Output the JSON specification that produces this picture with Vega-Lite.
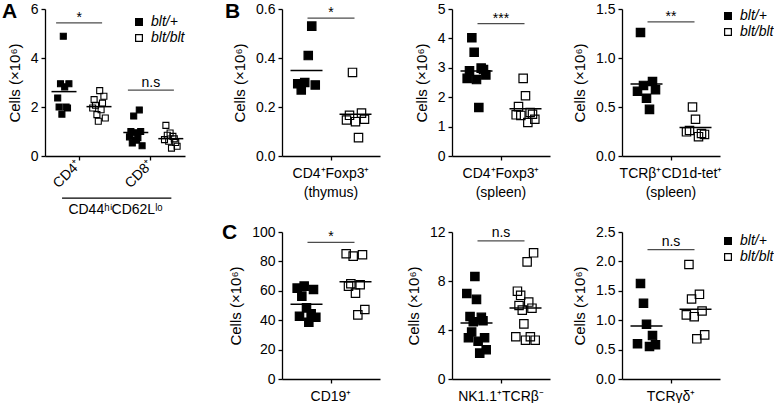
{
  "$schema": "https://vega.github.io/schema/vega-lite/v6.json",
  "padding": {"left": 2, "top": 1, "right": 0, "bottom": 0},
  "config": {
    "font": "Liberation Sans",
    "view": {"stroke": null},
    "axis": {"domainColor": "black", "domainWidth": 1.3, "tickColor": "black", "tickWidth": 1.3, "tickSize": 4, "labelColor": "black", "labelFontSize": 14, "labelFont": "Liberation Sans", "titleFont": "Liberation Sans", "titleFontSize": 15, "titleFontWeight": "normal", "titleColor": "black", "grid": false, "labelOverlap": false},
    "axisY": {"labelPadding": 3, "titlePadding": 8, "labelOverlap": false, "labelSeparation": -20, "labelLineHeight": 14},
    "axisX": {"labelAngle": 0, "labelPadding": 6},
    "title": {"font": "Liberation Sans", "fontSize": 21, "fontWeight": "bold", "color": "black", "anchor": "start", "frame": "group", "baseline": "alphabetic", "offset": 0},
    "legend": {"orient": "none", "title": null, "symbolType": "square", "symbolSize": 46, "symbolStrokeColor": "black", "symbolStrokeWidth": 1.2, "labelFont": "Liberation Sans", "labelFontStyle": "italic", "labelFontSize": 14, "labelColor": "black", "labelOffset": 5, "rowPadding": 2}
  },
  "datasets": {
    "cells": [
      {"cell": "CD4⁺", "genotype": "blt/+", "mouse": 1, "value": 2.37},
      {"cell": "CD4⁺", "genotype": "blt/+", "mouse": 2, "value": 2.0},
      {"cell": "CD4⁺", "genotype": "blt/+", "mouse": 3, "value": 2.95},
      {"cell": "CD4⁺", "genotype": "blt/+", "mouse": 4, "value": 1.71},
      {"cell": "CD4⁺", "genotype": "blt/+", "mouse": 5, "value": 4.89},
      {"cell": "CD4⁺", "genotype": "blt/+", "mouse": 6, "value": 2.82},
      {"cell": "CD4⁺", "genotype": "blt/+", "mouse": 7, "value": 2.0},
      {"cell": "CD4⁺", "genotype": "blt/+", "mouse": 8, "value": 1.96},
      {"cell": "CD4⁺", "genotype": "blt/+", "mouse": 9, "value": 2.95},
      {"cell": "CD4⁺", "genotype": "blt/blt", "mouse": 1, "value": 1.96},
      {"cell": "CD4⁺", "genotype": "blt/blt", "mouse": 2, "value": 2.3},
      {"cell": "CD4⁺", "genotype": "blt/blt", "mouse": 3, "value": 2.07},
      {"cell": "CD4⁺", "genotype": "blt/blt", "mouse": 4, "value": 1.69},
      {"cell": "CD4⁺", "genotype": "blt/blt", "mouse": 5, "value": 1.42},
      {"cell": "CD4⁺", "genotype": "blt/blt", "mouse": 6, "value": 2.67},
      {"cell": "CD4⁺", "genotype": "blt/blt", "mouse": 7, "value": 1.89},
      {"cell": "CD4⁺", "genotype": "blt/blt", "mouse": 8, "value": 2.16},
      {"cell": "CD4⁺", "genotype": "blt/blt", "mouse": 9, "value": 2.44},
      {"cell": "CD4⁺", "genotype": "blt/blt", "mouse": 10, "value": 1.55},
      {"cell": "CD8⁺", "genotype": "blt/+", "mouse": 1, "value": 0.78},
      {"cell": "CD8⁺", "genotype": "blt/+", "mouse": 2, "value": 1.0},
      {"cell": "CD8⁺", "genotype": "blt/+", "mouse": 3, "value": 0.53},
      {"cell": "CD8⁺", "genotype": "blt/+", "mouse": 4, "value": 1.63},
      {"cell": "CD8⁺", "genotype": "blt/+", "mouse": 5, "value": 0.95},
      {"cell": "CD8⁺", "genotype": "blt/+", "mouse": 6, "value": 0.65},
      {"cell": "CD8⁺", "genotype": "blt/+", "mouse": 7, "value": 0.75},
      {"cell": "CD8⁺", "genotype": "blt/+", "mouse": 8, "value": 1.88},
      {"cell": "CD8⁺", "genotype": "blt/+", "mouse": 9, "value": 1.0},
      {"cell": "CD8⁺", "genotype": "blt/+", "mouse": 10, "value": 0.42},
      {"cell": "CD8⁺", "genotype": "blt/blt", "mouse": 1, "value": 0.67},
      {"cell": "CD8⁺", "genotype": "blt/blt", "mouse": 2, "value": 1.25},
      {"cell": "CD8⁺", "genotype": "blt/blt", "mouse": 3, "value": 0.85},
      {"cell": "CD8⁺", "genotype": "blt/blt", "mouse": 4, "value": 0.6},
      {"cell": "CD8⁺", "genotype": "blt/blt", "mouse": 5, "value": 0.94},
      {"cell": "CD8⁺", "genotype": "blt/blt", "mouse": 6, "value": 0.32},
      {"cell": "CD8⁺", "genotype": "blt/blt", "mouse": 7, "value": 0.8},
      {"cell": "CD8⁺", "genotype": "blt/blt", "mouse": 8, "value": 0.7},
      {"cell": "CD8⁺", "genotype": "blt/blt", "mouse": 9, "value": 0.55},
      {"cell": "CD8⁺", "genotype": "blt/blt", "mouse": 10, "value": 0.4},

      {"cell": "CD4⁺Foxp3⁺ (thymus)", "genotype": "blt/+", "mouse": 1, "value": 0.295},
      {"cell": "CD4⁺Foxp3⁺ (thymus)", "genotype": "blt/+", "mouse": 2, "value": 0.27},
      {"cell": "CD4⁺Foxp3⁺ (thymus)", "genotype": "blt/+", "mouse": 3, "value": 0.30},
      {"cell": "CD4⁺Foxp3⁺ (thymus)", "genotype": "blt/+", "mouse": 4, "value": 0.41},
      {"cell": "CD4⁺Foxp3⁺ (thymus)", "genotype": "blt/+", "mouse": 5, "value": 0.53},
      {"cell": "CD4⁺Foxp3⁺ (thymus)", "genotype": "blt/+", "mouse": 6, "value": 0.29},
      {"cell": "CD4⁺Foxp3⁺ (thymus)", "genotype": "blt/blt", "mouse": 1, "value": 0.147},
      {"cell": "CD4⁺Foxp3⁺ (thymus)", "genotype": "blt/blt", "mouse": 2, "value": 0.166},
      {"cell": "CD4⁺Foxp3⁺ (thymus)", "genotype": "blt/blt", "mouse": 3, "value": 0.341},
      {"cell": "CD4⁺Foxp3⁺ (thymus)", "genotype": "blt/blt", "mouse": 4, "value": 0.14},
      {"cell": "CD4⁺Foxp3⁺ (thymus)", "genotype": "blt/blt", "mouse": 5, "value": 0.075},
      {"cell": "CD4⁺Foxp3⁺ (thymus)", "genotype": "blt/blt", "mouse": 6, "value": 0.175},
      {"cell": "CD4⁺Foxp3⁺ (thymus)", "genotype": "blt/blt", "mouse": 7, "value": 0.15},

      {"cell": "CD4⁺Foxp3⁺ (spleen)", "genotype": "blt/+", "mouse": 1, "value": 2.64},
      {"cell": "CD4⁺Foxp3⁺ (spleen)", "genotype": "blt/+", "mouse": 2, "value": 2.9},
      {"cell": "CD4⁺Foxp3⁺ (spleen)", "genotype": "blt/+", "mouse": 3, "value": 4.02},
      {"cell": "CD4⁺Foxp3⁺ (spleen)", "genotype": "blt/+", "mouse": 4, "value": 3.53},
      {"cell": "CD4⁺Foxp3⁺ (spleen)", "genotype": "blt/+", "mouse": 5, "value": 2.6},
      {"cell": "CD4⁺Foxp3⁺ (spleen)", "genotype": "blt/+", "mouse": 6, "value": 1.65},
      {"cell": "CD4⁺Foxp3⁺ (spleen)", "genotype": "blt/+", "mouse": 7, "value": 2.99},
      {"cell": "CD4⁺Foxp3⁺ (spleen)", "genotype": "blt/+", "mouse": 8, "value": 2.94},
      {"cell": "CD4⁺Foxp3⁺ (spleen)", "genotype": "blt/+", "mouse": 9, "value": 2.76},
      {"cell": "CD4⁺Foxp3⁺ (spleen)", "genotype": "blt/blt", "mouse": 1, "value": 1.40},
      {"cell": "CD4⁺Foxp3⁺ (spleen)", "genotype": "blt/blt", "mouse": 2, "value": 1.68},
      {"cell": "CD4⁺Foxp3⁺ (spleen)", "genotype": "blt/blt", "mouse": 3, "value": 1.38},
      {"cell": "CD4⁺Foxp3⁺ (spleen)", "genotype": "blt/blt", "mouse": 4, "value": 2.64},
      {"cell": "CD4⁺Foxp3⁺ (spleen)", "genotype": "blt/blt", "mouse": 5, "value": 2.05},
      {"cell": "CD4⁺Foxp3⁺ (spleen)", "genotype": "blt/blt", "mouse": 6, "value": 1.14},
      {"cell": "CD4⁺Foxp3⁺ (spleen)", "genotype": "blt/blt", "mouse": 7, "value": 1.48},
      {"cell": "CD4⁺Foxp3⁺ (spleen)", "genotype": "blt/blt", "mouse": 8, "value": 1.42},
      {"cell": "CD4⁺Foxp3⁺ (spleen)", "genotype": "blt/blt", "mouse": 9, "value": 1.25},

      {"cell": "TCRβ⁺CD1d-tet⁺ (spleen)", "genotype": "blt/+", "mouse": 1, "value": 0.66},
      {"cell": "TCRβ⁺CD1d-tet⁺ (spleen)", "genotype": "blt/+", "mouse": 2, "value": 1.26},
      {"cell": "TCRβ⁺CD1d-tet⁺ (spleen)", "genotype": "blt/+", "mouse": 3, "value": 0.72},
      {"cell": "TCRβ⁺CD1d-tet⁺ (spleen)", "genotype": "blt/+", "mouse": 4, "value": 0.59},
      {"cell": "TCRβ⁺CD1d-tet⁺ (spleen)", "genotype": "blt/+", "mouse": 5, "value": 0.476},
      {"cell": "TCRβ⁺CD1d-tet⁺ (spleen)", "genotype": "blt/+", "mouse": 6, "value": 0.76},
      {"cell": "TCRβ⁺CD1d-tet⁺ (spleen)", "genotype": "blt/+", "mouse": 7, "value": 0.676},
      {"cell": "TCRβ⁺CD1d-tet⁺ (spleen)", "genotype": "blt/blt", "mouse": 1, "value": 0.247},
      {"cell": "TCRβ⁺CD1d-tet⁺ (spleen)", "genotype": "blt/blt", "mouse": 2, "value": 0.26},
      {"cell": "TCRβ⁺CD1d-tet⁺ (spleen)", "genotype": "blt/blt", "mouse": 3, "value": 0.50},
      {"cell": "TCRβ⁺CD1d-tet⁺ (spleen)", "genotype": "blt/blt", "mouse": 4, "value": 0.375},
      {"cell": "TCRβ⁺CD1d-tet⁺ (spleen)", "genotype": "blt/blt", "mouse": 5, "value": 0.197},
      {"cell": "TCRβ⁺CD1d-tet⁺ (spleen)", "genotype": "blt/blt", "mouse": 6, "value": 0.23},
      {"cell": "TCRβ⁺CD1d-tet⁺ (spleen)", "genotype": "blt/blt", "mouse": 7, "value": 0.22},

      {"cell": "CD19⁺", "genotype": "blt/+", "mouse": 1, "value": 61.8},
      {"cell": "CD19⁺", "genotype": "blt/+", "mouse": 2, "value": 42.7},
      {"cell": "CD19⁺", "genotype": "blt/+", "mouse": 3, "value": 56.4},
      {"cell": "CD19⁺", "genotype": "blt/+", "mouse": 4, "value": 63.2},
      {"cell": "CD19⁺", "genotype": "blt/+", "mouse": 5, "value": 48.4},
      {"cell": "CD19⁺", "genotype": "blt/+", "mouse": 6, "value": 38.6},
      {"cell": "CD19⁺", "genotype": "blt/+", "mouse": 7, "value": 44.3},
      {"cell": "CD19⁺", "genotype": "blt/+", "mouse": 8, "value": 60.9},
      {"cell": "CD19⁺", "genotype": "blt/+", "mouse": 9, "value": 42.0},
      {"cell": "CD19⁺", "genotype": "blt/blt", "mouse": 1, "value": 85.2},
      {"cell": "CD19⁺", "genotype": "blt/blt", "mouse": 2, "value": 63.2},
      {"cell": "CD19⁺", "genotype": "blt/blt", "mouse": 3, "value": 64.8},
      {"cell": "CD19⁺", "genotype": "blt/blt", "mouse": 4, "value": 83.6},
      {"cell": "CD19⁺", "genotype": "blt/blt", "mouse": 5, "value": 58.4},
      {"cell": "CD19⁺", "genotype": "blt/blt", "mouse": 6, "value": 43.6},
      {"cell": "CD19⁺", "genotype": "blt/blt", "mouse": 7, "value": 64.1},
      {"cell": "CD19⁺", "genotype": "blt/blt", "mouse": 8, "value": 84.5},
      {"cell": "CD19⁺", "genotype": "blt/blt", "mouse": 9, "value": 47.3},

      {"cell": "NK1.1⁺TCRβ⁻", "genotype": "blt/+", "mouse": 1, "value": 6.98},
      {"cell": "NK1.1⁺TCRβ⁻", "genotype": "blt/+", "mouse": 2, "value": 3.37},
      {"cell": "NK1.1⁺TCRβ⁻", "genotype": "blt/+", "mouse": 3, "value": 5.1},
      {"cell": "NK1.1⁺TCRβ⁻", "genotype": "blt/+", "mouse": 4, "value": 3.83},
      {"cell": "NK1.1⁺TCRβ⁻", "genotype": "blt/+", "mouse": 5, "value": 4.67},
      {"cell": "NK1.1⁺TCRβ⁻", "genotype": "blt/+", "mouse": 6, "value": 8.37},
      {"cell": "NK1.1⁺TCRβ⁻", "genotype": "blt/+", "mouse": 7, "value": 6.5},
      {"cell": "NK1.1⁺TCRβ⁻", "genotype": "blt/+", "mouse": 8, "value": 3.08},
      {"cell": "NK1.1⁺TCRβ⁻", "genotype": "blt/+", "mouse": 9, "value": 2.11},
      {"cell": "NK1.1⁺TCRβ⁻", "genotype": "blt/+", "mouse": 10, "value": 5.03},
      {"cell": "NK1.1⁺TCRβ⁻", "genotype": "blt/+", "mouse": 11, "value": 4.75},
      {"cell": "NK1.1⁺TCRβ⁻", "genotype": "blt/+", "mouse": 12, "value": 3.37},
      {"cell": "NK1.1⁺TCRβ⁻", "genotype": "blt/+", "mouse": 13, "value": 2.39},
      {"cell": "NK1.1⁺TCRβ⁻", "genotype": "blt/blt", "mouse": 1, "value": 3.45},
      {"cell": "NK1.1⁺TCRβ⁻", "genotype": "blt/blt", "mouse": 2, "value": 7.17},
      {"cell": "NK1.1⁺TCRβ⁻", "genotype": "blt/blt", "mouse": 3, "value": 6.0},
      {"cell": "NK1.1⁺TCRβ⁻", "genotype": "blt/blt", "mouse": 4, "value": 6.83},
      {"cell": "NK1.1⁺TCRβ⁻", "genotype": "blt/blt", "mouse": 5, "value": 5.62},
      {"cell": "NK1.1⁺TCRβ⁻", "genotype": "blt/blt", "mouse": 6, "value": 4.5},
      {"cell": "NK1.1⁺TCRβ⁻", "genotype": "blt/blt", "mouse": 7, "value": 3.17},
      {"cell": "NK1.1⁺TCRβ⁻", "genotype": "blt/blt", "mouse": 8, "value": 9.56},
      {"cell": "NK1.1⁺TCRβ⁻", "genotype": "blt/blt", "mouse": 9, "value": 6.28},
      {"cell": "NK1.1⁺TCRβ⁻", "genotype": "blt/blt", "mouse": 10, "value": 3.45},
      {"cell": "NK1.1⁺TCRβ⁻", "genotype": "blt/blt", "mouse": 11, "value": 5.78},
      {"cell": "NK1.1⁺TCRβ⁻", "genotype": "blt/blt", "mouse": 12, "value": 10.3},
      {"cell": "NK1.1⁺TCRβ⁻", "genotype": "blt/blt", "mouse": 13, "value": 3.17},

      {"cell": "TCRγδ⁺", "genotype": "blt/+", "mouse": 1, "value": 0.598},
      {"cell": "TCRγδ⁺", "genotype": "blt/+", "mouse": 2, "value": 1.625},
      {"cell": "TCRγδ⁺", "genotype": "blt/+", "mouse": 3, "value": 1.287},
      {"cell": "TCRγδ⁺", "genotype": "blt/+", "mouse": 4, "value": 0.931},
      {"cell": "TCRγδ⁺", "genotype": "blt/+", "mouse": 5, "value": 0.553},
      {"cell": "TCRγδ⁺", "genotype": "blt/+", "mouse": 6, "value": 0.739},
      {"cell": "TCRγδ⁺", "genotype": "blt/+", "mouse": 7, "value": 0.581},
      {"cell": "TCRγδ⁺", "genotype": "blt/blt", "mouse": 1, "value": 1.09},
      {"cell": "TCRγδ⁺", "genotype": "blt/blt", "mouse": 2, "value": 1.947},
      {"cell": "TCRγδ⁺", "genotype": "blt/blt", "mouse": 3, "value": 1.36},
      {"cell": "TCRγδ⁺", "genotype": "blt/blt", "mouse": 4, "value": 1.06},
      {"cell": "TCRγδ⁺", "genotype": "blt/blt", "mouse": 5, "value": 0.683},
      {"cell": "TCRγδ⁺", "genotype": "blt/blt", "mouse": 6, "value": 1.44},
      {"cell": "TCRγδ⁺", "genotype": "blt/blt", "mouse": 7, "value": 1.157},
      {"cell": "TCRγδ⁺", "genotype": "blt/blt", "mouse": 8, "value": 0.75}
    ]
  },
  "bounds": "flush",
  "columns": 4,
  "spacing": {"row": 76, "column": 72},
  "resolve": {"scale": {"fill": "independent", "xOffset": "independent"}, "legend": {"fill": "independent"}},
  "concat": [
    {
      "width": 140, "height": 147,
      "title": {"text": "A", "dx": -43, "dy": 24},
      "data": {"name": "cells"},
      "encoding": {"x": {"field": "cell", "type": "nominal", "scale": {"domain": ["CD4⁺", "CD8⁺"], "paddingInner": 0.05, "paddingOuter": 0}, "axis": {"labelAngle": -45, "labelAlign": "right", "labelBaseline": "middle", "labelPadding": 2, "title": "CD44ʰⁱCD62Lˡᵒ", "titleFontSize": 14, "titlePadding": 12}}},
      "layer": [
        {"transform": [{"filter": {"field": "cell", "oneOf": ["CD4⁺", "CD8⁺"]}}, {"filter": {"field": "genotype", "equal": "blt/+"}}],
         "mark": {"type": "square", "size": 36, "stroke": "black", "strokeWidth": 1.1, "opacity": 1},
         "encoding": {
           "xOffset": {"field": "mouse", "type": "ordinal", "scale": {"range": [12, 26]}},
           "y": {"field": "value", "type": "quantitative", "title": "Cells (×10⁶)", "scale": {"domain": [0, 6], "nice": false}, "axis": {"values": [0, 2, 4, 6], "format": "d", "labelOverlap": false}},
           "fill": {"field": "genotype", "type": "nominal", "scale": {"domain": ["blt/+", "blt/blt"], "range": ["black", "transparent"]}, "legend": {"legendX": 87, "legendY": 6}}}},
        {"transform": [{"filter": {"field": "cell", "oneOf": ["CD4⁺", "CD8⁺"]}}, {"filter": {"field": "genotype", "equal": "blt/blt"}}],
         "mark": {"type": "square", "size": 36, "stroke": "black", "strokeWidth": 1.1, "opacity": 1},
         "encoding": {
           "xOffset": {"field": "mouse", "type": "ordinal", "scale": {"range": [47, 61]}},
           "y": {"field": "value", "type": "quantitative", "title": "Cells (×10⁶)", "scale": {"domain": [0, 6], "nice": false}, "axis": {"values": [0, 2, 4, 6], "format": "d", "labelOverlap": false}},
           "fill": {"field": "genotype", "type": "nominal", "scale": {"domain": ["blt/+", "blt/blt"], "range": ["black", "transparent"]}, "legend": {"legendX": 87, "legendY": 6}}}},
        {"transform": [{"filter": {"field": "cell", "oneOf": ["CD4⁺", "CD8⁺"]}}],
         "mark": {"type": "tick", "orient": "horizontal", "size": 25, "thickness": 1.5, "color": "black"},
         "encoding": {
           "xOffset": {"field": "genotype", "type": "nominal", "scale": {"domain": ["blt/+", "blt/blt"], "range": [1.5, 71.5]}},
           "y": {"aggregate": "mean", "field": "value", "type": "quantitative", "title": "Cells (×10⁶)", "scale": {"domain": [0, 6], "nice": false}, "axis": {"values": [0, 2, 4, 6], "format": "d", "labelOverlap": false}}}},
        {"data": {"values": [{}]},
         "mark": {"type": "tick", "orient": "horizontal", "size": 46, "thickness": 1.3, "color": "black"},
         "encoding": {"x": {"datum": "CD4⁺"}, "y": {"datum": 5.43, "title": "Cells (×10⁶)", "scale": {"domain": [0, 6], "nice": false}, "axis": {"values": [0, 2, 4, 6], "format": "d", "labelOverlap": false}}}},
        {"data": {"values": [{}]},
         "mark": {"type": "text", "fontSize": 14, "baseline": "alphabetic", "dy": -1, "color": "black"},
         "encoding": {"x": {"datum": "CD4⁺"}, "y": {"datum": 5.43, "title": "Cells (×10⁶)", "scale": {"domain": [0, 6], "nice": false}, "axis": {"values": [0, 2, 4, 6], "format": "d", "labelOverlap": false}}, "text": {"value": "*"}}},
        {"data": {"values": [{}]},
         "mark": {"type": "tick", "orient": "horizontal", "size": 46, "thickness": 1.3, "color": "black"},
         "encoding": {"x": {"datum": "CD8⁺"}, "y": {"datum": 2.69, "title": "Cells (×10⁶)", "scale": {"domain": [0, 6], "nice": false}, "axis": {"values": [0, 2, 4, 6], "format": "d", "labelOverlap": false}}}},
        {"data": {"values": [{}]},
         "mark": {"type": "text", "fontSize": 14, "baseline": "alphabetic", "dy": -3.5, "color": "black"},
         "encoding": {"x": {"datum": "CD8⁺"}, "y": {"datum": 2.69, "title": "Cells (×10⁶)", "scale": {"domain": [0, 6], "nice": false}, "axis": {"values": [0, 2, 4, 6], "format": "d", "labelOverlap": false}}, "text": {"value": "n.s"}}},
        {"data": {"values": [{}]},
         "mark": {"type": "rule", "strokeWidth": 1.3, "color": "black"},
         "encoding": {"x": {"datum": "CD4⁺", "bandPosition": 0.25}, "x2": {"datum": "CD8⁺", "bandPosition": 0.8}, "y": {"datum": -1.72, "title": "Cells (×10⁶)", "scale": {"domain": [0, 6], "nice": false}, "axis": {"values": [0, 2, 4, 6], "format": "d", "labelOverlap": false}}}}
      ],
      "resolve": {"scale": {"xOffset": "independent"}}
    },
    {
      "width": 98, "height": 147,
      "title": {"text": "B", "dx": -57, "dy": 24},
      "data": {"name": "cells"},
      "encoding": {"x": {"field": "cell", "type": "nominal", "scale": {"paddingInner": 0, "paddingOuter": 0}, "axis": {"title": null, "labelLineHeight": 19, "labelExpr": "indexof(datum.label, ' (') > 0 ? [slice(datum.label, 0, indexof(datum.label, ' (')), slice(datum.label, indexof(datum.label, ' (') + 1)] : datum.label"}}},
      "layer": [
        {"transform": [{"filter": {"field": "cell", "equal": "CD4⁺Foxp3⁺ (thymus)"}}, {"filter": {"field": "genotype", "equal": "blt/+"}}],
         "mark": {"type": "square", "size": 70, "stroke": "black", "strokeWidth": 1.2, "opacity": 1},
         "encoding": {
           "xOffset": {"field": "mouse", "type": "ordinal", "scale": {"range": [14, 35]}},
           "y": {"field": "value", "type": "quantitative", "title": "Cells (×10⁶)", "scale": {"domain": [0, 0.6], "nice": false}, "axis": {"values": [0, 0.2, 0.4, 0.6], "format": ".1f", "labelOverlap": false}},
           "fill": {"field": "genotype", "type": "nominal", "scale": {"domain": ["blt/+", "blt/blt"], "range": ["black", "transparent"]}, "legend": null}}},
        {"transform": [{"filter": {"field": "cell", "equal": "CD4⁺Foxp3⁺ (thymus)"}}, {"filter": {"field": "genotype", "equal": "blt/blt"}}],
         "mark": {"type": "square", "size": 70, "stroke": "black", "strokeWidth": 1.2, "opacity": 1},
         "encoding": {
           "xOffset": {"field": "mouse", "type": "ordinal", "scale": {"range": [63, 84]}},
           "y": {"field": "value", "type": "quantitative", "title": "Cells (×10⁶)", "scale": {"domain": [0, 0.6], "nice": false}, "axis": {"values": [0, 0.2, 0.4, 0.6], "format": ".1f", "labelOverlap": false}},
           "fill": {"field": "genotype", "type": "nominal", "scale": {"domain": ["blt/+", "blt/blt"], "range": ["black", "transparent"]}, "legend": null}}},
        {"transform": [{"filter": {"field": "cell", "equal": "CD4⁺Foxp3⁺ (thymus)"}}],
         "mark": {"type": "tick", "orient": "horizontal", "size": 32, "thickness": 1.5, "color": "black"},
         "encoding": {
           "xOffset": {"field": "genotype", "type": "nominal", "scale": {"domain": ["blt/+", "blt/blt"], "range": [0, 98]}},
           "y": {"aggregate": "mean", "field": "value", "type": "quantitative", "title": "Cells (×10⁶)", "scale": {"domain": [0, 0.6], "nice": false}, "axis": {"values": [0, 0.2, 0.4, 0.6], "format": ".1f", "labelOverlap": false}}}},
        {"data": {"values": [{}]},
         "mark": {"type": "tick", "orient": "horizontal", "size": 47, "thickness": 1.3, "color": "black"},
         "encoding": {"x": {"datum": "CD4⁺Foxp3⁺ (thymus)"}, "y": {"datum": 0.563, "title": "Cells (×10⁶)", "scale": {"domain": [0, 0.6], "nice": false}, "axis": {"values": [0, 0.2, 0.4, 0.6], "format": ".1f", "labelOverlap": false}}}},
        {"data": {"values": [{}]},
         "mark": {"type": "text", "fontSize": 14, "baseline": "alphabetic", "dy": -1, "color": "black"},
         "encoding": {"x": {"datum": "CD4⁺Foxp3⁺ (thymus)"}, "y": {"datum": 0.563, "title": "Cells (×10⁶)", "scale": {"domain": [0, 0.6], "nice": false}, "axis": {"values": [0, 0.2, 0.4, 0.6], "format": ".1f", "labelOverlap": false}}, "text": {"value": "*"}}}
      ],
      "resolve": {"scale": {"xOffset": "independent"}}
    },
    {
      "width": 98, "height": 147,
      "data": {"name": "cells"},
      "encoding": {"x": {"field": "cell", "type": "nominal", "scale": {"paddingInner": 0, "paddingOuter": 0}, "axis": {"title": null, "labelLineHeight": 19, "labelExpr": "indexof(datum.label, ' (') > 0 ? [slice(datum.label, 0, indexof(datum.label, ' (')), slice(datum.label, indexof(datum.label, ' (') + 1)] : datum.label"}}},
      "layer": [
        {"transform": [{"filter": {"field": "cell", "equal": "CD4⁺Foxp3⁺ (spleen)"}}, {"filter": {"field": "genotype", "equal": "blt/+"}}],
         "mark": {"type": "square", "size": 70, "stroke": "black", "strokeWidth": 1.2, "opacity": 1},
         "encoding": {
           "xOffset": {"field": "mouse", "type": "ordinal", "scale": {"range": [14, 35]}},
           "y": {"field": "value", "type": "quantitative", "title": "Cells (×10⁶)", "scale": {"domain": [0, 5], "nice": false}, "axis": {"values": [0, 1, 2, 3, 4, 5], "format": "d", "labelOverlap": false}},
           "fill": {"field": "genotype", "type": "nominal", "scale": {"domain": ["blt/+", "blt/blt"], "range": ["black", "transparent"]}, "legend": null}}},
        {"transform": [{"filter": {"field": "cell", "equal": "CD4⁺Foxp3⁺ (spleen)"}}, {"filter": {"field": "genotype", "equal": "blt/blt"}}],
         "mark": {"type": "square", "size": 70, "stroke": "black", "strokeWidth": 1.2, "opacity": 1},
         "encoding": {
           "xOffset": {"field": "mouse", "type": "ordinal", "scale": {"range": [63, 84]}},
           "y": {"field": "value", "type": "quantitative", "title": "Cells (×10⁶)", "scale": {"domain": [0, 5], "nice": false}, "axis": {"values": [0, 1, 2, 3, 4, 5], "format": "d", "labelOverlap": false}},
           "fill": {"field": "genotype", "type": "nominal", "scale": {"domain": ["blt/+", "blt/blt"], "range": ["black", "transparent"]}, "legend": null}}},
        {"transform": [{"filter": {"field": "cell", "equal": "CD4⁺Foxp3⁺ (spleen)"}}],
         "mark": {"type": "tick", "orient": "horizontal", "size": 32, "thickness": 1.5, "color": "black"},
         "encoding": {
           "xOffset": {"field": "genotype", "type": "nominal", "scale": {"domain": ["blt/+", "blt/blt"], "range": [0, 98]}},
           "y": {"aggregate": "mean", "field": "value", "type": "quantitative", "title": "Cells (×10⁶)", "scale": {"domain": [0, 5], "nice": false}, "axis": {"values": [0, 1, 2, 3, 4, 5], "format": "d", "labelOverlap": false}}}},
        {"data": {"values": [{}]},
         "mark": {"type": "tick", "orient": "horizontal", "size": 47, "thickness": 1.3, "color": "black"},
         "encoding": {"x": {"datum": "CD4⁺Foxp3⁺ (spleen)"}, "y": {"datum": 4.5, "title": "Cells (×10⁶)", "scale": {"domain": [0, 5], "nice": false}, "axis": {"values": [0, 1, 2, 3, 4, 5], "format": "d", "labelOverlap": false}}}},
        {"data": {"values": [{}]},
         "mark": {"type": "text", "fontSize": 14, "baseline": "alphabetic", "dy": -1, "color": "black"},
         "encoding": {"x": {"datum": "CD4⁺Foxp3⁺ (spleen)"}, "y": {"datum": 4.5, "title": "Cells (×10⁶)", "scale": {"domain": [0, 5], "nice": false}, "axis": {"values": [0, 1, 2, 3, 4, 5], "format": "d", "labelOverlap": false}}, "text": {"value": "***"}}}
      ],
      "resolve": {"scale": {"xOffset": "independent"}}
    },
    {
      "width": 98, "height": 147,
      "data": {"name": "cells"},
      "encoding": {"x": {"field": "cell", "type": "nominal", "scale": {"paddingInner": 0, "paddingOuter": 0}, "axis": {"title": null, "labelLineHeight": 19, "labelExpr": "indexof(datum.label, ' (') > 0 ? [slice(datum.label, 0, indexof(datum.label, ' (')), slice(datum.label, indexof(datum.label, ' (') + 1)] : datum.label"}}},
      "layer": [
        {"transform": [{"filter": {"field": "cell", "equal": "TCRβ⁺CD1d-tet⁺ (spleen)"}}, {"filter": {"field": "genotype", "equal": "blt/+"}}],
         "mark": {"type": "square", "size": 70, "stroke": "black", "strokeWidth": 1.2, "opacity": 1},
         "encoding": {
           "xOffset": {"field": "mouse", "type": "ordinal", "scale": {"range": [14, 35]}},
           "y": {"field": "value", "type": "quantitative", "title": "Cells (×10⁶)", "scale": {"domain": [0, 1.5], "nice": false}, "axis": {"values": [0, 0.5, 1, 1.5], "format": ".1f", "labelOverlap": false}},
           "fill": {"field": "genotype", "type": "nominal", "scale": {"domain": ["blt/+", "blt/blt"], "range": ["black", "transparent"]}, "legend": {"legendX": 99, "legendY": 0}}}},
        {"transform": [{"filter": {"field": "cell", "equal": "TCRβ⁺CD1d-tet⁺ (spleen)"}}, {"filter": {"field": "genotype", "equal": "blt/blt"}}],
         "mark": {"type": "square", "size": 70, "stroke": "black", "strokeWidth": 1.2, "opacity": 1},
         "encoding": {
           "xOffset": {"field": "mouse", "type": "ordinal", "scale": {"range": [63, 84]}},
           "y": {"field": "value", "type": "quantitative", "title": "Cells (×10⁶)", "scale": {"domain": [0, 1.5], "nice": false}, "axis": {"values": [0, 0.5, 1, 1.5], "format": ".1f", "labelOverlap": false}},
           "fill": {"field": "genotype", "type": "nominal", "scale": {"domain": ["blt/+", "blt/blt"], "range": ["black", "transparent"]}, "legend": {"legendX": 99, "legendY": 0}}}},
        {"transform": [{"filter": {"field": "cell", "equal": "TCRβ⁺CD1d-tet⁺ (spleen)"}}],
         "mark": {"type": "tick", "orient": "horizontal", "size": 32, "thickness": 1.5, "color": "black"},
         "encoding": {
           "xOffset": {"field": "genotype", "type": "nominal", "scale": {"domain": ["blt/+", "blt/blt"], "range": [0, 98]}},
           "y": {"aggregate": "mean", "field": "value", "type": "quantitative", "title": "Cells (×10⁶)", "scale": {"domain": [0, 1.5], "nice": false}, "axis": {"values": [0, 0.5, 1, 1.5], "format": ".1f", "labelOverlap": false}}}},
        {"data": {"values": [{}]},
         "mark": {"type": "tick", "orient": "horizontal", "size": 47, "thickness": 1.3, "color": "black"},
         "encoding": {"x": {"datum": "TCRβ⁺CD1d-tet⁺ (spleen)"}, "y": {"datum": 1.368, "title": "Cells (×10⁶)", "scale": {"domain": [0, 1.5], "nice": false}, "axis": {"values": [0, 0.5, 1, 1.5], "format": ".1f", "labelOverlap": false}}}},
        {"data": {"values": [{}]},
         "mark": {"type": "text", "fontSize": 14, "baseline": "alphabetic", "dy": -1, "color": "black"},
         "encoding": {"x": {"datum": "TCRβ⁺CD1d-tet⁺ (spleen)"}, "y": {"datum": 1.368, "title": "Cells (×10⁶)", "scale": {"domain": [0, 1.5], "nice": false}, "axis": {"values": [0, 0.5, 1, 1.5], "format": ".1f", "labelOverlap": false}}, "text": {"value": "**"}}}
      ],
      "resolve": {"scale": {"xOffset": "independent"}}
    },
    {"width": 165, "height": 147, "data": {"values": [{}]}, "mark": {"type": "text"}, "encoding": {"text": {"value": ""}}},
    {
      "width": 98, "height": 147,
      "title": {"text": "C", "dx": -60, "dy": 22},
      "data": {"name": "cells"},
      "encoding": {"x": {"field": "cell", "type": "nominal", "scale": {"paddingInner": 0, "paddingOuter": 0}, "axis": {"title": null}}},
      "layer": [
        {"transform": [{"filter": {"field": "cell", "equal": "CD19⁺"}}, {"filter": {"field": "genotype", "equal": "blt/+"}}],
         "mark": {"type": "square", "size": 70, "stroke": "black", "strokeWidth": 1.2, "opacity": 1},
         "encoding": {
           "xOffset": {"field": "mouse", "type": "ordinal", "scale": {"range": [14, 35]}},
           "y": {"field": "value", "type": "quantitative", "title": "Cells (×10⁶)", "scale": {"domain": [0, 100], "nice": false}, "axis": {"values": [0, 20, 40, 60, 80, 100], "format": "d", "labelOverlap": false}},
           "fill": {"field": "genotype", "type": "nominal", "scale": {"domain": ["blt/+", "blt/blt"], "range": ["black", "transparent"]}, "legend": null}}},
        {"transform": [{"filter": {"field": "cell", "equal": "CD19⁺"}}, {"filter": {"field": "genotype", "equal": "blt/blt"}}],
         "mark": {"type": "square", "size": 70, "stroke": "black", "strokeWidth": 1.2, "opacity": 1},
         "encoding": {
           "xOffset": {"field": "mouse", "type": "ordinal", "scale": {"range": [63, 84]}},
           "y": {"field": "value", "type": "quantitative", "title": "Cells (×10⁶)", "scale": {"domain": [0, 100], "nice": false}, "axis": {"values": [0, 20, 40, 60, 80, 100], "format": "d", "labelOverlap": false}},
           "fill": {"field": "genotype", "type": "nominal", "scale": {"domain": ["blt/+", "blt/blt"], "range": ["black", "transparent"]}, "legend": null}}},
        {"transform": [{"filter": {"field": "cell", "equal": "CD19⁺"}}],
         "mark": {"type": "tick", "orient": "horizontal", "size": 32, "thickness": 1.5, "color": "black"},
         "encoding": {
           "xOffset": {"field": "genotype", "type": "nominal", "scale": {"domain": ["blt/+", "blt/blt"], "range": [0, 98]}},
           "y": {"aggregate": "mean", "field": "value", "type": "quantitative", "title": "Cells (×10⁶)", "scale": {"domain": [0, 100], "nice": false}, "axis": {"values": [0, 20, 40, 60, 80, 100], "format": "d", "labelOverlap": false}}}},
        {"data": {"values": [{}]},
         "mark": {"type": "tick", "orient": "horizontal", "size": 47, "thickness": 1.3, "color": "black"},
         "encoding": {"x": {"datum": "CD19⁺"}, "y": {"datum": 93, "title": "Cells (×10⁶)", "scale": {"domain": [0, 100], "nice": false}, "axis": {"values": [0, 20, 40, 60, 80, 100], "format": "d", "labelOverlap": false}}}},
        {"data": {"values": [{}]},
         "mark": {"type": "text", "fontSize": 14, "baseline": "alphabetic", "dy": -1, "color": "black"},
         "encoding": {"x": {"datum": "CD19⁺"}, "y": {"datum": 93, "title": "Cells (×10⁶)", "scale": {"domain": [0, 100], "nice": false}, "axis": {"values": [0, 20, 40, 60, 80, 100], "format": "d", "labelOverlap": false}}, "text": {"value": "*"}}}
      ],
      "resolve": {"scale": {"xOffset": "independent"}}
    },
    {
      "width": 98, "height": 147,
      "data": {"name": "cells"},
      "encoding": {"x": {"field": "cell", "type": "nominal", "scale": {"paddingInner": 0, "paddingOuter": 0}, "axis": {"title": null}}},
      "layer": [
        {"transform": [{"filter": {"field": "cell", "equal": "NK1.1⁺TCRβ⁻"}}, {"filter": {"field": "genotype", "equal": "blt/+"}}],
         "mark": {"type": "square", "size": 70, "stroke": "black", "strokeWidth": 1.2, "opacity": 1},
         "encoding": {
           "xOffset": {"field": "mouse", "type": "ordinal", "scale": {"range": [14, 35]}},
           "y": {"field": "value", "type": "quantitative", "title": "Cells (×10⁶)", "scale": {"domain": [0, 12], "nice": false}, "axis": {"values": [0, 4, 8, 12], "format": "d", "labelOverlap": false}},
           "fill": {"field": "genotype", "type": "nominal", "scale": {"domain": ["blt/+", "blt/blt"], "range": ["black", "transparent"]}, "legend": null}}},
        {"transform": [{"filter": {"field": "cell", "equal": "NK1.1⁺TCRβ⁻"}}, {"filter": {"field": "genotype", "equal": "blt/blt"}}],
         "mark": {"type": "square", "size": 70, "stroke": "black", "strokeWidth": 1.2, "opacity": 1},
         "encoding": {
           "xOffset": {"field": "mouse", "type": "ordinal", "scale": {"range": [63, 84]}},
           "y": {"field": "value", "type": "quantitative", "title": "Cells (×10⁶)", "scale": {"domain": [0, 12], "nice": false}, "axis": {"values": [0, 4, 8, 12], "format": "d", "labelOverlap": false}},
           "fill": {"field": "genotype", "type": "nominal", "scale": {"domain": ["blt/+", "blt/blt"], "range": ["black", "transparent"]}, "legend": null}}},
        {"transform": [{"filter": {"field": "cell", "equal": "NK1.1⁺TCRβ⁻"}}],
         "mark": {"type": "tick", "orient": "horizontal", "size": 32, "thickness": 1.5, "color": "black"},
         "encoding": {
           "xOffset": {"field": "genotype", "type": "nominal", "scale": {"domain": ["blt/+", "blt/blt"], "range": [0, 98]}},
           "y": {"aggregate": "mean", "field": "value", "type": "quantitative", "title": "Cells (×10⁶)", "scale": {"domain": [0, 12], "nice": false}, "axis": {"values": [0, 4, 8, 12], "format": "d", "labelOverlap": false}}}},
        {"data": {"values": [{}]},
         "mark": {"type": "tick", "orient": "horizontal", "size": 47, "thickness": 1.3, "color": "black"},
         "encoding": {"x": {"datum": "NK1.1⁺TCRβ⁻"}, "y": {"datum": 11.28, "title": "Cells (×10⁶)", "scale": {"domain": [0, 12], "nice": false}, "axis": {"values": [0, 4, 8, 12], "format": "d", "labelOverlap": false}}}},
        {"data": {"values": [{}]},
         "mark": {"type": "text", "fontSize": 14, "baseline": "alphabetic", "dy": -3.5, "color": "black"},
         "encoding": {"x": {"datum": "NK1.1⁺TCRβ⁻"}, "y": {"datum": 11.28, "title": "Cells (×10⁶)", "scale": {"domain": [0, 12], "nice": false}, "axis": {"values": [0, 4, 8, 12], "format": "d", "labelOverlap": false}}, "text": {"value": "n.s"}}}
      ],
      "resolve": {"scale": {"xOffset": "independent"}}
    },
    {
      "width": 98, "height": 147,
      "data": {"name": "cells"},
      "encoding": {"x": {"field": "cell", "type": "nominal", "scale": {"paddingInner": 0, "paddingOuter": 0}, "axis": {"title": null}}},
      "layer": [
        {"transform": [{"filter": {"field": "cell", "equal": "TCRγδ⁺"}}, {"filter": {"field": "genotype", "equal": "blt/+"}}],
         "mark": {"type": "square", "size": 70, "stroke": "black", "strokeWidth": 1.2, "opacity": 1},
         "encoding": {
           "xOffset": {"field": "mouse", "type": "ordinal", "scale": {"range": [14, 35]}},
           "y": {"field": "value", "type": "quantitative", "title": "Cells (×10⁶)", "scale": {"domain": [0, 2.5], "nice": false}, "axis": {"values": [0, 0.5, 1, 1.5, 2, 2.5], "format": ".1f", "labelOverlap": false}},
           "fill": {"field": "genotype", "type": "nominal", "scale": {"domain": ["blt/+", "blt/blt"], "range": ["black", "transparent"]}, "legend": {"legendX": 99, "legendY": 2}}}},
        {"transform": [{"filter": {"field": "cell", "equal": "TCRγδ⁺"}}, {"filter": {"field": "genotype", "equal": "blt/blt"}}],
         "mark": {"type": "square", "size": 70, "stroke": "black", "strokeWidth": 1.2, "opacity": 1},
         "encoding": {
           "xOffset": {"field": "mouse", "type": "ordinal", "scale": {"range": [63, 84]}},
           "y": {"field": "value", "type": "quantitative", "title": "Cells (×10⁶)", "scale": {"domain": [0, 2.5], "nice": false}, "axis": {"values": [0, 0.5, 1, 1.5, 2, 2.5], "format": ".1f", "labelOverlap": false}},
           "fill": {"field": "genotype", "type": "nominal", "scale": {"domain": ["blt/+", "blt/blt"], "range": ["black", "transparent"]}, "legend": {"legendX": 99, "legendY": 2}}}},
        {"transform": [{"filter": {"field": "cell", "equal": "TCRγδ⁺"}}],
         "mark": {"type": "tick", "orient": "horizontal", "size": 32, "thickness": 1.5, "color": "black"},
         "encoding": {
           "xOffset": {"field": "genotype", "type": "nominal", "scale": {"domain": ["blt/+", "blt/blt"], "range": [0, 98]}},
           "y": {"aggregate": "mean", "field": "value", "type": "quantitative", "title": "Cells (×10⁶)", "scale": {"domain": [0, 2.5], "nice": false}, "axis": {"values": [0, 0.5, 1, 1.5, 2, 2.5], "format": ".1f", "labelOverlap": false}}}},
        {"data": {"values": [{}]},
         "mark": {"type": "tick", "orient": "horizontal", "size": 47, "thickness": 1.3, "color": "black"},
         "encoding": {"x": {"datum": "TCRγδ⁺"}, "y": {"datum": 2.2, "title": "Cells (×10⁶)", "scale": {"domain": [0, 2.5], "nice": false}, "axis": {"values": [0, 0.5, 1, 1.5, 2, 2.5], "format": ".1f", "labelOverlap": false}}}},
        {"data": {"values": [{}]},
         "mark": {"type": "text", "fontSize": 14, "baseline": "alphabetic", "dy": -3.5, "color": "black"},
         "encoding": {"x": {"datum": "TCRγδ⁺"}, "y": {"datum": 2.2, "title": "Cells (×10⁶)", "scale": {"domain": [0, 2.5], "nice": false}, "axis": {"values": [0, 0.5, 1, 1.5, 2, 2.5], "format": ".1f", "labelOverlap": false}}, "text": {"value": "n.s"}}}
      ],
      "resolve": {"scale": {"xOffset": "independent"}}
    }
  ]
}
